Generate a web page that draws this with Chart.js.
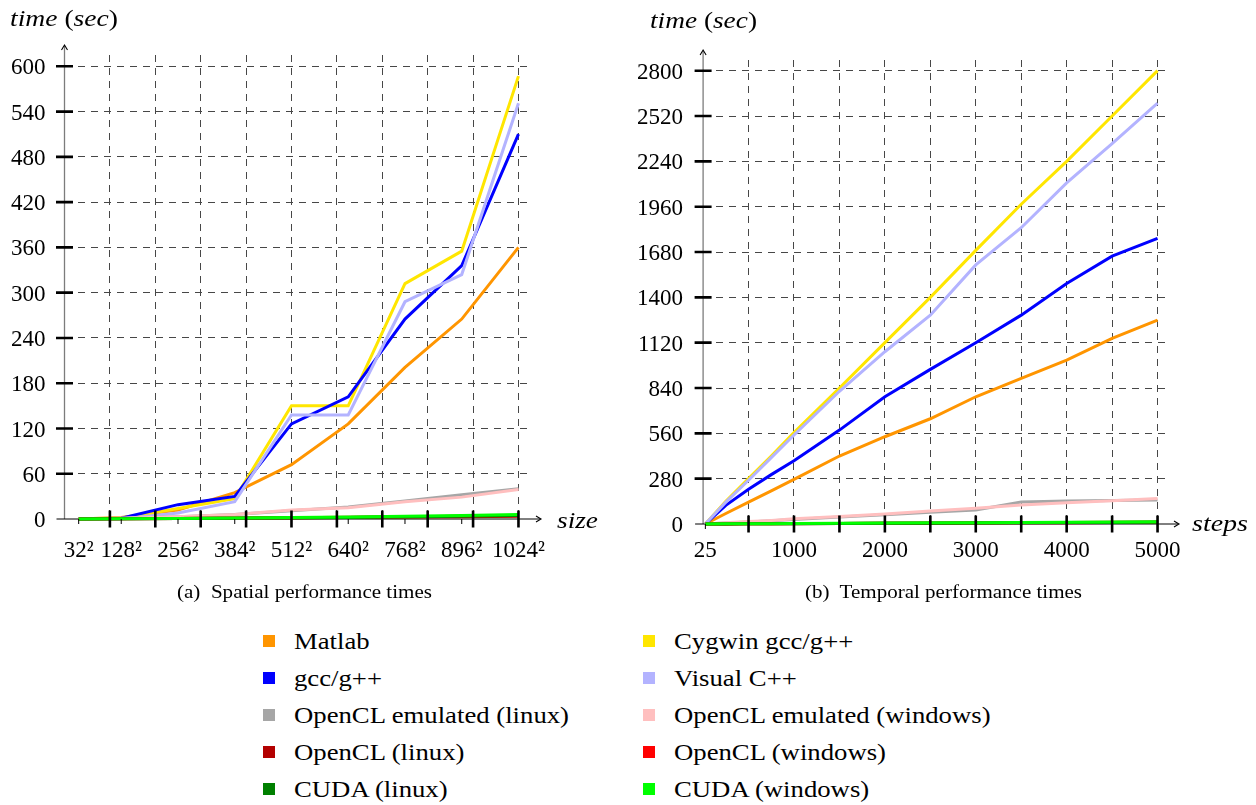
<!DOCTYPE html>
<html>
<head>
<meta charset="utf-8">
<script src="https://cdn.jsdelivr.net/npm/chart.js@4.4.1/dist/chart.umd.min.js"></script>
<style>
  html, body { margin: 0; padding: 0; background: #fff; }
  #page { position: relative; width: 1256px; height: 805px; overflow: hidden;
          font-family: "Liberation Serif", "Times New Roman", serif; color: #000; }
  #page canvas { position: absolute; top: 0; }
  .lbl { position: absolute; white-space: nowrap; line-height: 1; transform-origin: 0 50%; }
  .axis-title { font-size: 24px; }
  .axis-title i { font-style: italic; }
  .caption { font-size: 18px; }
  .leg-row { position: absolute; height: 24px; display: flex; align-items: center; white-space: nowrap; }
  .leg-box { width: 12px; height: 12px; margin-right: 19px; flex: none; }
  .leg-text { font-size: 23px; line-height: 1; transform-origin: 0 50%; display: inline-block; }
</style>
</head>
<body>
<div id="page">
  <canvas id="spatial" width="620" height="610" style="left:0"></canvas>
  <canvas id="temporal" width="636" height="610" style="left:620px"></canvas>

  <div class="lbl axis-title" data-fit="108" style="left:10px; top:6px"><i>time</i> (<i>sec</i>)</div>
  <div class="lbl axis-title" data-fit="107" style="left:650px; top:8px"><i>time</i> (<i>sec</i>)</div>
  <div class="lbl axis-title" data-fit="41" style="left:557px; top:508px"><i>size</i></div>
  <div class="lbl axis-title" data-fit="56" style="left:1192px; top:511px"><i>steps</i></div>

  <div class="lbl caption" data-fit="255" style="left:177px; top:583px">(a)&nbsp; Spatial performance times</div>
  <div class="lbl caption" data-fit="277" style="left:805px; top:583px">(b)&nbsp; Temporal performance times</div>

  <div id="legend"></div>
</div>

<script>
// ---- spatial run (grid side length) ----
const sizeValues = [32, 128, 256, 384, 512, 640, 768, 896, 1024];
const sizeLabels = ['32²', '128²', '256²', '384²', '512²', '640²', '768²', '896²', '1024²'];
const sizeGridValues = [102.4, 204.8, 307.2, 409.6, 512, 614.4, 716.8, 819.2, 921.6, 1024];
const spatialTimeTicks = [0, 60, 120, 180, 240, 300, 360, 420, 480, 540, 600];

const matlabSpatial      = [0, 2, 12, 35, 72, 126, 201, 265, 360];
const cygwinSpatial      = [0, 1, 14, 27, 150, 150, 312, 355, 587];
const gccSpatial         = [0, 1, 19, 30, 126, 162, 265, 336, 510];
const visualcSpatial     = [0, 0, 8, 23, 138, 138, 288, 324, 551];
const oclEmuLinuxSpatial = [0, 1, 3, 6, 11, 16, 24, 32, 40];
const oclEmuWinSpatial   = [0, 1, 3, 6, 12, 15, 23, 29, 39];
const oclLinuxSpatial    = [0, 0.3, 0.6, 1, 1.5, 2, 2.5, 3, 3.5];
const oclWinSpatial      = [0, 0.3, 0.7, 1.2, 1.8, 2.4, 3, 3.6, 4.2];
const cudaLinuxSpatial   = [0, 0.2, 0.5, 0.9, 1.4, 2, 2.8, 3.6, 4.5];
const cudaWinSpatial     = [0, 0.3, 0.7, 1.3, 2, 2.8, 3.8, 4.8, 6];

// ---- temporal run (number of steps) ----
const stepValues = [25, 250, 500, 750, 1000, 1500, 2000, 2500, 3000, 3500, 4000, 4500, 5000];
const stepLabelValues = [25, 1000, 2000, 3000, 4000, 5000];
const stepGridValues = [500, 1000, 1500, 2000, 2500, 3000, 3500, 4000, 4500, 5000];
const temporalTimeTicks = [0, 280, 560, 840, 1120, 1400, 1680, 1960, 2240, 2520, 2800];

const matlabTemporal      = [0, 65, 135, 205, 276, 420, 539, 650, 786, 899, 1012, 1146, 1259];
const cygwinTemporal      = [0, 140, 280, 420, 565, 840, 1120, 1400, 1690, 1975, 2240, 2520, 2800];
const gccTemporal         = [0, 115, 215, 305, 390, 580, 786, 955, 1120, 1290, 1486, 1654, 1764];
const visualcTemporal     = [0, 135, 270, 410, 550, 820, 1064, 1290, 1600, 1830, 2107, 2350, 2600];
const oclEmuLinuxTemporal = [0, 6, 13, 20, 28, 43, 57, 72, 86, 136, 142, 145, 148];
const oclEmuWinTemporal   = [0, 7, 15, 22, 32, 46, 62, 80, 97, 117, 131, 144, 158];
const oclLinuxTemporal    = [0, 0.5, 1, 1.5, 2, 3, 4, 5, 6, 7, 8, 9, 10];
const oclWinTemporal      = [0, 0.6, 1.2, 1.8, 2.5, 3.5, 5, 6, 7, 8.5, 9.5, 11, 12];
const cudaLinuxTemporal   = [0, 0.5, 1, 1.5, 2, 3, 4, 5, 6.5, 7.5, 8.5, 10, 11];
const cudaWinTemporal     = [0, 1, 1.5, 2, 3, 4, 6, 7, 8, 10, 11, 13, 14];

// ---- series ----
const seriesNames = ['Matlab', 'Cygwin gcc/g++', 'gcc/g++', 'Visual C++',
  'OpenCL emulated (linux)', 'OpenCL emulated (windows)',
  'OpenCL (linux)', 'OpenCL (windows)', 'CUDA (linux)', 'CUDA (windows)'];
const seriesColors = ['#ff9500', '#ffe600', '#0000ff', '#b3b3ff',
  '#a6a6a6', '#ffbfbf', '#b30000', '#ff0000', '#008000', '#00ff00'];

const spatialSeries = [matlabSpatial, cygwinSpatial, gccSpatial, visualcSpatial,
  oclEmuLinuxSpatial, oclEmuWinSpatial, oclLinuxSpatial, oclWinSpatial,
  cudaLinuxSpatial, cudaWinSpatial];
const temporalSeries = [matlabTemporal, cygwinTemporal, gccTemporal, visualcTemporal,
  oclEmuLinuxTemporal, oclEmuWinTemporal, oclLinuxTemporal, oclWinTemporal,
  cudaLinuxTemporal, cudaWinTemporal];

const TICK_FONT = { family: '"Liberation Serif", "Times New Roman", serif', size: 23 };
const GRID_COLOR = '#474747';
const GRID_DASH = [7, 6];

function buildDatasets(xs, series) {
  return series.map((vals, i) => ({
    label: seriesNames[i],
    data: vals.map((v, k) => ({ x: xs[k], y: v })),
    borderColor: seriesColors[i],
    backgroundColor: seriesColors[i],
    borderWidth: 3,
    pointRadius: 0,
    tension: 0,
    fill: false,
    clip: false,
    order: series.length - i   // later series are painted on top
  }));
}

// axis lines with arrow tips, plus the heavy tick marks crossing the axes
const axisDecor = {
  id: 'axisDecor',
  beforeDatasetsDraw(chart, args, o) {
    const ctx = chart.ctx;
    const xs = chart.scales.x, ys = chart.scales.y;
    const x0 = xs.getPixelForValue(0), y0 = ys.getPixelForValue(0);
    ctx.save();
    ctx.lineCap = 'butt';
    ctx.strokeStyle = '#7c7c7c';
    ctx.lineWidth = 1.3;
    ctx.beginPath(); ctx.moveTo(x0, y0); ctx.lineTo(x0, o.yTip + 1); ctx.stroke();
    ctx.strokeStyle = '#000';
    ctx.lineWidth = 1;
    ctx.beginPath(); ctx.moveTo(x0 - 8, y0); ctx.lineTo(o.xTip - 1, y0); ctx.stroke();
    ctx.restore();
  },
  afterDatasetsDraw(chart, args, o) {
    const ctx = chart.ctx;
    const xs = chart.scales.x, ys = chart.scales.y;
    const x0 = xs.getPixelForValue(0), y0 = ys.getPixelForValue(0);
    ctx.save();
    ctx.strokeStyle = '#000';
    // arrow heads
    ctx.lineWidth = 1.1;
    ctx.beginPath();
    ctx.moveTo(x0 - 3, o.yTip + 5); ctx.lineTo(x0, o.yTip); ctx.lineTo(x0 + 3, o.yTip + 5);
    ctx.moveTo(o.xTip - 5, y0 - 3); ctx.lineTo(o.xTip, y0); ctx.lineTo(o.xTip - 5, y0 + 3);
    ctx.stroke();
    // heavy ticks
    ctx.lineWidth = 2.6;
    ctx.beginPath();
    o.yMarks.forEach(v => {
      if (v === 0) return;
      const p = ys.getPixelForValue(v);
      ctx.moveTo(x0 - 8.5, p); ctx.lineTo(x0 + 8.5, p);
    });
    o.xMarks.forEach(v => {
      const p = xs.getPixelForValue(v);
      ctx.moveTo(p, y0 - 8.5); ctx.lineTo(p, y0 + 8.5);
    });
    ctx.stroke();
    // light ticks under the labelled positions
    ctx.lineWidth = 1;
    ctx.beginPath();
    o.xLabelMarks.forEach(v => {
      const p = xs.getPixelForValue(v);
      ctx.moveTo(p, y0); ctx.lineTo(p, y0 + 5);
    });
    ctx.stroke();
    ctx.restore();
  }
};

function makeChart(canvasId, cfg) {
  return new Chart(document.getElementById(canvasId), {
    type: 'line',
    data: { datasets: buildDatasets(cfg.xs, cfg.series) },
    plugins: [axisDecor],
    options: {
      responsive: false,
      animation: false,
      events: [],
      layout: { padding: cfg.padding },
      plugins: {
        legend: { display: false },
        tooltip: { enabled: false },
        axisDecor: { xTip: cfg.xTip, yTip: cfg.yTip, yMarks: cfg.yTicks,
                     xMarks: cfg.xGrid, xLabelMarks: cfg.xLabels }
      },
      scales: {
        x: {
          type: 'linear', position: 'bottom', min: 0, max: cfg.xMax,
          grid: { display: false, drawTicks: false },
          border: { display: false },
          ticks: {
            autoSkip: false, maxRotation: 0, minRotation: 0,
            padding: cfg.xLabelPad, color: '#000', font: TICK_FONT,
            callback: (v, i) => cfg.xText[i]
          },
          afterBuildTicks: s => { s.ticks = cfg.xLabels.map(v => ({ value: v })); },
          afterFit: s => { s.height = 40; }
        },
        xg: {
          type: 'linear', position: 'bottom', min: 0, max: cfg.xMax,
          ticks: { display: false },
          grid: { drawTicks: false, color: GRID_COLOR, lineWidth: 1 },
          border: { display: false, dash: GRID_DASH },
          afterBuildTicks: s => { s.ticks = cfg.xGrid.map(v => ({ value: v })); },
          afterFit: s => { s.height = 0; }
        },
        y: {
          type: 'linear', position: 'left', min: 0, max: cfg.yMax,
          grid: {
            drawTicks: false, lineWidth: 1,
            color: c => (c.tick && c.tick.value === 0) ? 'rgba(0,0,0,0)' : GRID_COLOR
          },
          border: { display: false, dash: GRID_DASH },
          ticks: { padding: cfg.yLabelPad, color: '#000', font: TICK_FONT, labelOffset: 2,
                   callback: v => String(v) },
          afterBuildTicks: s => { s.ticks = cfg.yTicks.map(v => ({ value: v })); },
          afterFit: s => { s.width = cfg.yWidth; }
        }
      }
    }
  });
}

makeChart('spatial', {
  xs: sizeValues, series: spatialSeries,
  xMax: 1050, yMax: 615,
  xLabels: sizeValues, xText: sizeLabels, xGrid: sizeGridValues, yTicks: spatialTimeTicks,
  padding: { top: 55, right: 90, bottom: 51, left: 0 },
  yWidth: 64.5, yLabelPad: 19, xLabelPad: 18,
  xTip: 541, yTip: 45
});

makeChart('temporal', {
  xs: stepValues, series: temporalSeries,
  xMax: 5115, yMax: 2866,
  xLabels: stepLabelValues, xText: stepLabelValues.map(String), xGrid: stepGridValues,
  yTicks: temporalTimeTicks,
  padding: { top: 60, right: 88, bottom: 46, left: 0 },
  yWidth: 83.1, yLabelPad: 20, xLabelPad: 13,
  xTip: 559, yTip: 50
});

// legend in two columns, same order as the datasets
const legend = document.getElementById('legend');
const legendCols = [263, 643];
const legendRows = [641, 678, 715, 752, 789];
const legendTexts = [];
seriesNames.forEach((name, i) => {
  const row = document.createElement('div');
  row.className = 'leg-row';
  row.style.left = legendCols[i % 2] + 'px';
  row.style.top = (legendRows[Math.floor(i / 2)] - 12) + 'px';
  const box = document.createElement('span');
  box.className = 'leg-box';
  box.style.background = seriesColors[i];
  const txt = document.createElement('span');
  txt.className = 'leg-text';
  txt.textContent = name;
  row.appendChild(box);
  row.appendChild(txt);
  legend.appendChild(row);
  legendTexts.push(txt);
});

// widen the serif text to the set column widths
function stretchTo(el, width) {
  const w = el.getBoundingClientRect().width;
  if (w > 0) el.style.transform = 'scaleX(' + (width / w).toFixed(4) + ')';
}
document.querySelectorAll('[data-fit]').forEach(el => stretchTo(el, +el.dataset.fit));
const legendScale = 275 / legendTexts[4].getBoundingClientRect().width;
legendTexts.forEach(t => { t.style.transform = 'scaleX(' + legendScale.toFixed(4) + ')'; });
</script>
</body>
</html>
